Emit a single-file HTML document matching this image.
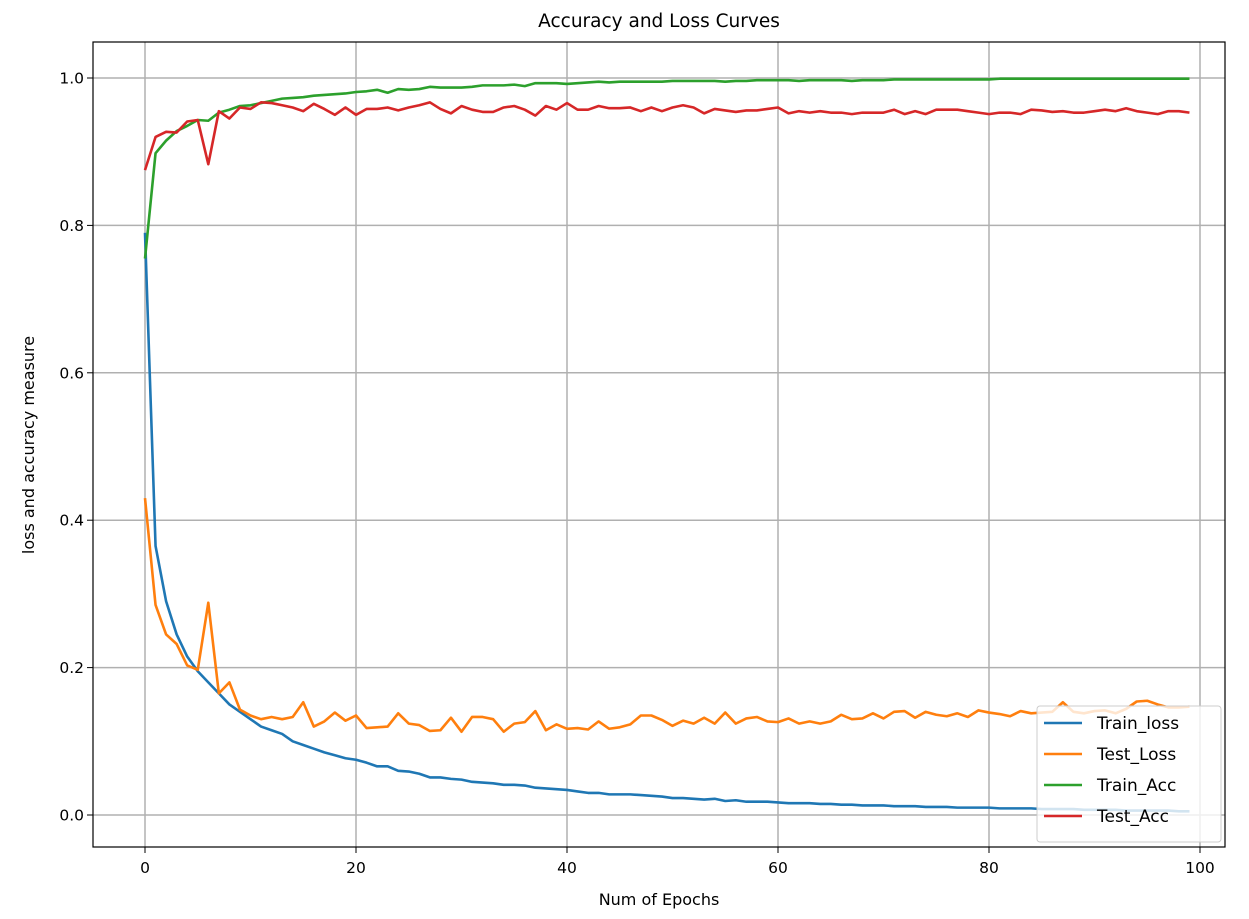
<!DOCTYPE html>
<html><head><meta charset="utf-8"><style>
body{margin:0;background:#fff;font-family:"DejaVu Sans","Liberation Sans",sans-serif}
svg text{font-family:"DejaVu Sans","Liberation Sans",sans-serif}
</style></head><body>
<svg id="chart" width="1249" height="915" xmlns="http://www.w3.org/2000/svg">
<g id="grid"></g>
<g id="lines"></g>
<rect x="93" y="42" width="1132" height="805" fill="none" stroke="#000" stroke-width="1.2"/>
<g id="ticks"></g>
<text x="659" y="27" font-size="18.5" text-anchor="middle">Accuracy and Loss Curves</text>
<text x="659" y="905" font-size="16" text-anchor="middle">Num of Epochs</text>
<text transform="translate(34,445) rotate(-90)" font-size="16" text-anchor="middle">loss and accuracy measure</text>
<g id="legend"></g>
</svg>
<script>
const trainLoss=[0.79,0.365,0.29,0.245,0.215,0.195,0.18,0.165,0.15,0.14,0.13,0.12,0.115,0.11,0.1,0.095,0.09,0.085,0.081,0.077,0.075,0.071,0.066,0.066,0.06,0.059,0.056,0.051,0.051,0.049,0.048,0.045,0.044,0.043,0.041,0.041,0.04,0.037,0.036,0.035,0.034,0.032,0.03,0.03,0.028,0.028,0.028,0.027,0.026,0.025,0.023,0.023,0.022,0.021,0.022,0.019,0.02,0.018,0.018,0.018,0.017,0.016,0.016,0.016,0.015,0.015,0.014,0.014,0.013,0.013,0.013,0.012,0.012,0.012,0.011,0.011,0.011,0.01,0.01,0.01,0.01,0.009,0.009,0.009,0.009,0.008,0.008,0.008,0.008,0.007,0.007,0.007,0.007,0.006,0.006,0.006,0.006,0.006,0.005,0.005];
const testLoss=[0.43,0.285,0.245,0.232,0.203,0.197,0.288,0.165,0.18,0.143,0.135,0.13,0.133,0.13,0.133,0.153,0.12,0.127,0.139,0.128,0.135,0.118,0.119,0.12,0.138,0.124,0.122,0.114,0.115,0.132,0.113,0.133,0.133,0.13,0.113,0.124,0.126,0.141,0.115,0.123,0.117,0.118,0.116,0.127,0.117,0.119,0.123,0.135,0.135,0.129,0.121,0.128,0.124,0.132,0.124,0.139,0.124,0.131,0.133,0.127,0.126,0.131,0.124,0.127,0.124,0.127,0.136,0.13,0.131,0.138,0.131,0.14,0.141,0.132,0.14,0.136,0.134,0.138,0.133,0.142,0.139,0.137,0.134,0.141,0.138,0.139,0.14,0.153,0.14,0.138,0.141,0.142,0.138,0.144,0.154,0.155,0.15,0.146,0.146,0.147];
const trainAcc=[0.755,0.898,0.915,0.928,0.935,0.943,0.942,0.953,0.957,0.962,0.963,0.966,0.969,0.972,0.973,0.974,0.976,0.977,0.978,0.979,0.981,0.982,0.984,0.98,0.985,0.984,0.985,0.988,0.987,0.987,0.987,0.988,0.99,0.99,0.99,0.991,0.989,0.993,0.993,0.993,0.992,0.993,0.994,0.995,0.994,0.995,0.995,0.995,0.995,0.995,0.996,0.996,0.996,0.996,0.996,0.995,0.996,0.996,0.997,0.997,0.997,0.997,0.996,0.997,0.997,0.997,0.997,0.996,0.997,0.997,0.997,0.998,0.998,0.998,0.998,0.998,0.998,0.998,0.998,0.998,0.998,0.999,0.999,0.999,0.999,0.999,0.999,0.999,0.999,0.999,0.999,0.999,0.999,0.999,0.999,0.999,0.999,0.999,0.999,0.999];
const testAcc=[0.875,0.92,0.927,0.926,0.941,0.943,0.883,0.955,0.945,0.96,0.958,0.967,0.966,0.963,0.96,0.955,0.965,0.958,0.95,0.96,0.95,0.958,0.958,0.96,0.956,0.96,0.963,0.967,0.958,0.952,0.962,0.957,0.954,0.954,0.96,0.962,0.957,0.949,0.962,0.957,0.966,0.957,0.957,0.962,0.959,0.959,0.96,0.955,0.96,0.955,0.96,0.963,0.96,0.952,0.958,0.956,0.954,0.956,0.956,0.958,0.96,0.952,0.955,0.953,0.955,0.953,0.953,0.951,0.953,0.953,0.953,0.957,0.951,0.955,0.951,0.957,0.957,0.957,0.955,0.953,0.951,0.953,0.953,0.951,0.957,0.956,0.954,0.955,0.953,0.953,0.955,0.957,0.955,0.959,0.955,0.953,0.951,0.955,0.955,0.953];
const seriesNames=["Train_loss","Test_Loss","Train_Acc","Test_Acc"];
const seriesColors=["#1f77b4","#ff7f0e","#2ca02c","#d62728"];
const xTicks=[0,20,40,60,80,100];
const yTicks=[0.0,0.2,0.4,0.6,0.8,1.0];
const NS="http://www.w3.org/2000/svg";
const X=v=>145+v*10.55, Y=v=>815-v*737;
const grid=document.getElementById('grid'),ticks=document.getElementById('ticks');
function mk(t,a,p){const e=document.createElementNS(NS,t);for(const k in a)e.setAttribute(k,a[k]);p.appendChild(e);return e;}
xTicks.forEach(t=>{
 const g=mk('line',{x1:X(t),x2:X(t),y1:42,y2:847,stroke:'#b0b0b0','stroke-width':1.5},grid);
 
 
 const k=mk('line',{x1:X(t),x2:X(t),y1:847,y2:853,stroke:'#000'},ticks);
 
 
 const l=mk('text',{x:X(t),y:873,'font-size':15.5,'text-anchor':'middle'},ticks);l.textContent=t;
 
 
});
yTicks.forEach(t=>{
 const g=mk('line',{x1:93,x2:1225,y1:Y(t),y2:Y(t),stroke:'#b0b0b0','stroke-width':1.5},grid);
 
 
 const k=mk('line',{x1:87,x2:93,y1:Y(t),y2:Y(t),stroke:'#000'},ticks);
 
 
 const l=mk('text',{x:84,y:Y(t)+5.5,'font-size':15.5,'text-anchor':'end'},ticks);l.textContent=t.toFixed(1);
 
 
});
const lines=document.getElementById('lines');
[trainLoss,testLoss,trainAcc,testAcc].forEach((s,i)=>{
 const p=mk('polyline',{points:s.map((v,j)=>X(j)+','+Y(v)).join(' '),fill:'none',stroke:seriesColors[i],'stroke-width':2.6,'stroke-linejoin':'round'},lines);
 
 
});
const lg=document.getElementById('legend');
const box=mk('rect',{x:1037,y:706,width:184,height:136,rx:3,fill:'#fff','fill-opacity':0.8,stroke:'#ccc'},lg);


seriesNames.forEach((n,i)=>{
 const y=723+i*31;
 const ln=mk('line',{x1:1044,x2:1082,y1:y,y2:y,stroke:seriesColors[i],'stroke-width':2.6},lg);
 
 
 const t=mk('text',{x:1097,y:y+6,'font-size':17},lg);t.textContent=n;
 
 
});
</script>
</body></html>
